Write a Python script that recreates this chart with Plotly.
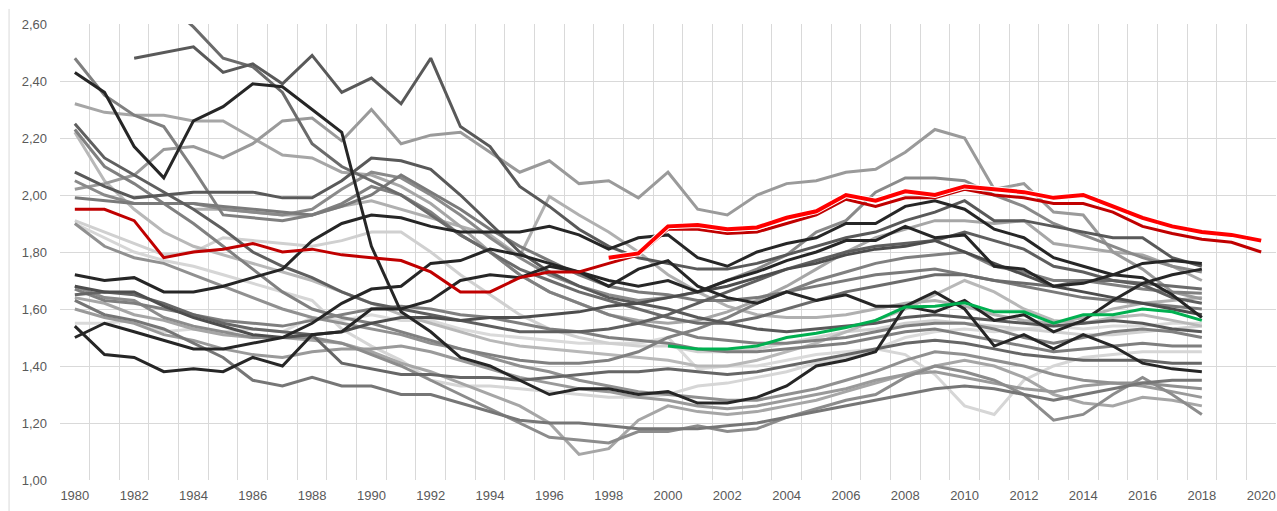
import plotly.graph_objects as go

years = list(range(1980, 2021))

# ---- data (1980..2018 unless noted) ----
black_a = [2.43,2.36,2.17,2.06,2.26,2.31,2.39,2.38,2.30,2.22, 1.82,1.59,1.52,1.43,1.40,1.35,1.30,1.32,1.32,1.30,
           1.31,1.27,1.27,1.29,1.33,1.40,1.42,1.45,1.61,1.66, 1.60,1.47,1.51,1.46,1.51,1.47,1.41,1.39,1.38]
black_b = [1.72,1.70,1.71,1.66,1.66,1.68,1.71,1.74,1.84,1.90, 1.93,1.92,1.89,1.87,1.87,1.87,1.89,1.86,1.81,1.85,
           1.86,1.78,1.75,1.80,1.83,1.85,1.90,1.90,1.96,1.98, 1.95,1.88,1.85,1.78,1.75,1.72,1.71,1.65,1.57]
black_c = [1.50,1.55,1.52,1.49,1.46,1.46,1.48,1.50,1.55,1.62, 1.67,1.68,1.76,1.77,1.81,1.79,1.76,1.73,1.70,1.68,
           1.70,1.66,1.70,1.73,1.77,1.80,1.84,1.84,1.89,1.85, 1.86,1.75,1.74,1.68,1.69,1.72,1.76,1.77,1.76]
black_d = [1.54,1.44,1.43,1.38,1.39,1.38,1.43,1.40,1.51,1.52, 1.60,1.60,1.63,1.70,1.72,1.71,1.75,1.73,1.68,1.74,
           1.77,1.68,1.64,1.62,1.66,1.63,1.65,1.61,1.61,1.59, 1.63,1.56,1.58,1.52,1.56,1.63,1.69,1.72,1.74]

red_dark = [1.95,1.95,1.91,1.78,1.80,1.81,1.83,1.80,1.81,1.79, 1.78,1.77,1.73,1.66,1.66,1.71,1.73,1.73,1.76,1.79,
            1.88,1.88,1.865,1.87,1.90,1.93,1.985,1.96,1.99,1.99, 2.02,2.00,1.99,1.97,1.97,1.94,1.89,1.865,1.845,1.834,1.80]
red_bright = [1.78,1.795,1.89,1.895,1.88,1.886,1.92,1.943,2.00,1.98,2.013,2.00,2.03,2.02,2.01,1.99,2.00,1.96,1.92,1.89,1.87,1.86,1.84]  # 1998..2020
green = [1.47,1.46,1.46,1.47,1.50,1.515,1.535,1.56,1.607,1.61,1.622,1.59,1.59,1.55,1.58,1.58,1.60,1.59,1.56]  # 2000..2018

g01 = [2.48,2.35,2.28,2.24,2.09,1.93,1.92,1.91,1.93,1.97, 2.03,2.00,1.94,1.86,1.80,1.72,1.66,1.62,1.58,1.55,
       1.53,1.50,1.49,1.48,1.48,1.49,1.50,1.52,1.54,1.55, 1.55,1.53,1.50,1.48,1.50,1.52,1.53,1.52,1.50]
g02 = [None,None,None,2.68,2.59,2.48,2.45,2.36,2.18,2.10, 2.05,2.00,1.93,1.86,1.80,1.74,1.70,1.66,1.63,1.60,
       1.57,1.55,1.55,1.57,1.60,1.63,1.66,1.68,1.70,1.72, 1.72,1.70,1.69,1.68,1.70,1.70,1.69,1.68,1.67]
g03 = [None,None,2.48,2.50,2.52,2.43,2.46,2.39,2.49,2.36, 2.41,2.32,2.48,2.24,2.17,2.03,1.96,1.88,1.82,1.78,
       1.76,1.74,1.74,1.76,1.79,1.82,1.85,1.87,1.91,1.94, 1.98,1.91,1.91,1.89,1.87,1.85,1.85,1.78,1.75]
g04 = [2.02,2.04,2.07,2.16,2.17,2.13,2.18,2.26,2.27,2.19, 2.30,2.18,2.21,2.22,2.15,2.08,2.12,2.04,2.05,1.99,
       2.08,1.95,1.93,2.00,2.04,2.05,2.08,2.09,2.15,2.23, 2.20,2.02,2.04,1.94,1.93,1.80,1.74,1.66,1.635]
g05 = [2.05,2.00,1.97,1.97,1.97,1.95,1.94,1.93,1.95,2.02, 2.08,2.06,2.00,1.93,1.85,1.78,1.72,1.68,1.65,1.63,
       1.64,1.66,1.70,1.74,1.79,1.87,1.91,2.01,2.06,2.06, 2.05,2.00,1.96,1.90,1.86,1.82,1.78,1.75,1.73]
g06 = [2.32,2.29,2.28,2.28,2.26,2.26,2.20,2.14,2.13,2.08, 2.07,2.03,1.97,1.89,1.80,1.72,1.66,1.62,1.58,1.56,
       1.55,1.56,1.59,1.63,1.68,1.74,1.80,1.85,1.88,1.91, 1.91,1.90,1.91,1.83,1.815,1.80,1.79,1.75,1.70]
g07 = [2.25,2.13,2.07,2.01,1.95,1.88,1.80,1.75,1.71,1.66, 1.62,1.60,1.58,1.56,1.54,1.52,1.52,1.52,1.53,1.55,
       1.58,1.62,1.66,1.70,1.74,1.77,1.80,1.82,1.83,1.84, 1.87,1.84,1.81,1.75,1.73,1.70,1.685,1.64,1.62]
g08 = [2.23,2.10,2.04,1.97,1.90,1.82,1.74,1.66,1.60,1.57, 1.55,1.52,1.49,1.46,1.44,1.42,1.41,1.41,1.42,1.45,
       1.50,1.53,1.57,1.62,1.66,1.70,1.73,1.76,1.78,1.79, 1.80,1.75,1.73,1.70,1.70,1.685,1.67,1.66,1.655]
g09 = [2.22,2.05,1.95,1.87,1.82,1.79,1.76,1.73,1.70,1.66, 1.62,1.58,1.55,1.52,1.49,1.47,1.46,1.45,1.44,1.43,
       1.42,1.40,1.40,1.42,1.45,1.48,1.52,1.56,1.60,1.65, 1.70,1.66,1.60,1.56,1.55,1.57,1.58,1.56,1.54]
g10 = [2.08,2.03,1.99,2.00,2.01,2.01,2.01,1.99,1.99,2.05, 2.13,2.12,2.09,2.00,1.90,1.80,1.73,1.68,1.64,1.62,
       1.60,1.57,1.55,1.53,1.52,1.53,1.54,1.55,1.57,1.58, 1.57,1.56,1.55,1.54,1.55,1.56,1.55,1.53,1.52]
g11 = [1.99,1.98,1.97,1.97,1.97,1.96,1.95,1.94,1.93,1.96, 2.00,2.07,2.01,1.95,1.88,1.82,1.77,1.72,1.68,1.66,
       1.65,1.63,1.63,1.64,1.66,1.68,1.70,1.72,1.73,1.74, 1.72,1.70,1.68,1.66,1.64,1.63,1.62,1.61,1.60]
g12 = [1.91,1.87,1.83,1.79,1.80,1.85,1.84,1.83,1.82,1.84, 1.87,1.87,1.80,1.72,1.65,1.58,1.53,1.50,1.48,1.47,
       1.47,1.45,1.45,1.46,1.48,1.50,1.52,1.53,1.55,1.56, 1.55,1.54,1.53,1.52,1.51,1.51,1.52,1.53,1.54]
g13 = [1.90,1.82,1.78,1.76,1.72,1.68,1.64,1.60,1.57,1.55, 1.53,1.51,1.48,1.46,1.43,1.40,1.38,1.35,1.33,1.31,
       1.30,1.29,1.28,1.28,1.30,1.32,1.35,1.38,1.42,1.45, 1.44,1.42,1.40,1.37,1.35,1.34,1.34,1.33,1.32]
g14 = [1.68,1.66,1.66,1.61,1.57,1.54,1.51,1.50,1.51,1.52, 1.55,1.57,1.57,1.56,1.57,1.57,1.58,1.59,1.61,1.62,
       1.64,1.66,1.68,1.71,1.74,1.76,1.79,1.81,1.82,1.84, 1.80,1.76,1.72,1.68,1.66,1.64,1.62,1.60,1.58]
g15 = [1.67,1.63,1.62,1.60,1.58,1.56,1.55,1.54,1.56,1.58, 1.60,1.61,1.60,1.58,1.57,1.55,1.53,1.52,1.50,1.49,
       1.48,1.46,1.45,1.45,1.46,1.47,1.48,1.50,1.52,1.53, 1.51,1.49,1.47,1.45,1.46,1.47,1.48,1.47,1.47]
g16 = [1.65,1.66,1.65,1.62,1.58,1.55,1.53,1.52,1.51,1.41, 1.39,1.37,1.37,1.36,1.36,1.35,1.36,1.37,1.38,1.38,
       1.39,1.38,1.37,1.38,1.40,1.42,1.44,1.46,1.48,1.49, 1.48,1.46,1.44,1.43,1.42,1.42,1.42,1.41,1.41]
g17 = [1.63,1.58,1.56,1.53,1.48,1.43,1.35,1.33,1.36,1.33, 1.33,1.30,1.30,1.27,1.24,1.21,1.20,1.20,1.19,1.18,
       1.18,1.18,1.19,1.20,1.22,1.24,1.26,1.28,1.30,1.32, 1.33,1.32,1.30,1.28,1.30,1.32,1.34,1.35,1.35]
g18 = [1.60,1.57,1.55,1.51,1.49,1.46,1.44,1.43,1.45,1.46, 1.46,1.47,1.45,1.42,1.39,1.36,1.34,1.32,1.31,1.29,
       1.28,1.26,1.25,1.26,1.28,1.30,1.32,1.35,1.37,1.38, 1.36,1.34,1.32,1.31,1.33,1.34,1.33,1.31,1.29]
g19 = [1.64,1.62,1.58,1.56,1.53,1.51,1.50,1.50,1.49,1.48, 1.45,1.41,1.38,1.34,1.30,1.26,1.20,1.09,1.11,1.21,
       1.26,1.24,1.23,1.24,1.26,1.28,1.31,1.34,1.37,1.40, 1.42,1.40,1.36,1.30,1.27,1.26,1.29,1.28,1.26]
g20 = [1.68,1.64,1.63,1.57,1.54,1.52,1.50,1.50,1.50,1.48, 1.44,1.40,1.35,1.30,1.25,1.20,1.15,1.14,1.13,1.17,
       1.17,1.19,1.17,1.18,1.22,1.25,1.28,1.30,1.36,1.40, 1.38,1.35,1.30,1.21,1.23,1.30,1.36,1.30,1.23]
g21 = [1.55,1.55,1.56,1.52,1.53,1.52,1.53,1.52,1.57,1.56, 1.58,1.56,1.56,1.53,1.51,1.50,1.49,1.48,1.48,1.48,
       1.50,1.39,1.40,1.40,1.42,1.44,1.45,1.46,1.50,1.52, 1.53,1.52,1.53,1.54,1.53,1.54,1.54,1.55,1.55]
g23 = [None,None,None,None,1.95,1.95,1.94,1.93,1.93,1.96, 1.98,1.95,1.92,1.89,1.86,1.785,1.995,1.93,1.87,1.80,
       1.72,1.66,1.61,1.58,1.57,1.57,1.58,1.60,1.62,1.63, 1.61,1.58,1.56,1.55,1.57,1.60,1.62,1.63,1.64]
g24 = [1.90,1.85,1.80,1.77,1.75,1.72,1.69,1.66,1.63,1.53, 1.47,1.42,1.35,1.33,1.33,1.32,1.31,1.30,1.29,1.29,
       1.30,1.33,1.34,1.36,1.38,1.41,1.43,1.46,1.44,1.37, 1.26,1.23,1.35,1.40,1.43,1.44,1.45,1.45,1.45]

gray_series = [
    (g24, "#d6d6d6"), (g21, "#dadada"), (g12, "#d0d0d0"), (g09, "#b8b8b8"), (g23, "#b0b0b0"),
    (g06, "#a6a6a6"), (g19, "#a6a6a6"), (g04, "#9a9a9a"), (g18, "#9a9a9a"), (g13, "#909090"),
    (g05, "#8a8a8a"), (g20, "#8c8c8c"), (g01, "#808080"), (g08, "#808080"), (g15, "#7f7f7f"),
    (g11, "#7a7a7a"), (g17, "#767676"), (g02, "#6b6b6b"), (g16, "#666666"), (g07, "#5f5f5f"),
    (g03, "#595959"), (g10, "#595959"), (g14, "#4d4d4d"),
]
black_series = [black_a, black_b, black_c, black_d]

fig = go.Figure()
yrs18 = years[:39]
for vals, col in gray_series:
    fig.add_trace(go.Scatter(x=yrs18, y=vals, mode="lines", line=dict(color=col, width=3), hoverinfo="skip"))
for vals in black_series:
    fig.add_trace(go.Scatter(x=yrs18, y=vals, mode="lines", line=dict(color="#262626", width=3), hoverinfo="skip"))
fig.add_trace(go.Scatter(x=years[20:39], y=green, mode="lines", line=dict(color="#00b050", width=3), hoverinfo="skip"))
fig.add_trace(go.Scatter(x=years, y=red_dark, mode="lines", line=dict(color="#c00000", width=3), hoverinfo="skip"))
fig.add_trace(go.Scatter(x=years[18:], y=red_bright, mode="lines", line=dict(color="#ffffff", width=6), hoverinfo="skip"))
fig.add_trace(go.Scatter(x=years[18:], y=red_bright, mode="lines", line=dict(color="#ff0000", width=4), hoverinfo="skip"))

fig.update_layout(
    width=1277, height=511,
    margin=dict(l=60, r=1, t=24, b=31),
    paper_bgcolor="white", plot_bgcolor="white",
    showlegend=False,
    separators=", ",
    font=dict(family="Liberation Sans, Arial, sans-serif", size=13, color="#595959"),
)
fig.update_xaxes(
    range=[1979.5, 2020.5], tick0=1980, dtick=2, showgrid=False, zeroline=False,
    ticks="", showline=False, ticklabelstandoff=6, ticklabeloverflow="allow",
    minor=dict(tick0=1979.5, dtick=1, showgrid=True, gridcolor="#d9d9d9", gridwidth=1, ticks=""),
)
fig.update_yaxes(
    range=[1.0, 2.6], tick0=1.0, dtick=0.2, tickformat=".2f", showgrid=True,
    gridcolor="#d9d9d9", gridwidth=1, zeroline=False, showline=False, ticklabelstandoff=12,
)
fig.add_shape(type="line", xref="paper", yref="paper", x0=-0.0419, x1=-0.0419, y0=-0.068, y1=1.033,
              line=dict(color="#d9d9d9", width=1))
fig.write_html(
    "out.html",
    config={"displayModeBar": False},
    post_script="document.body.style.margin='0';document.body.style.overflow='hidden';",
)
